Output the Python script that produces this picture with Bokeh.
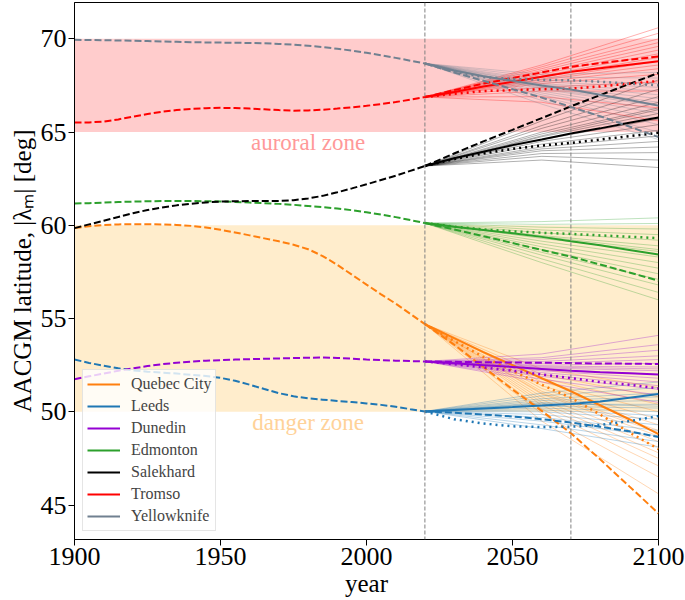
from bokeh.plotting import figure
from bokeh.models import (BoxAnnotation, Span, Legend, LegendItem,
                          FixedTicker, Range1d)
from bokeh.core.properties import value
from bokeh.embed import file_html
from bokeh.resources import INLINE

# ---------------- data ----------------
CITIES = ["Quebec City", "Leeds", "Dunedin", "Edmonton", "Salekhard", "Tromso", "Yellowknife"]
COLORS = ["#ff7f0e", "#1f77b4", "#9400d3", "#2ca02c", "#000000", "#ff0000", "#708090"]

HIST_YEARS = [1900, 1905, 1910, 1915, 1920, 1925, 1930, 1935, 1940, 1945, 1950, 1955, 1960,
              1965, 1970, 1975, 1980, 1985, 1990, 1995, 2000, 2005, 2010, 2015, 2020]
FUT_YEARS = [2020, 2030, 2040, 2050, 2060, 2070, 2080, 2090, 2100]
ENS_YEARS = [2020, 2060, 2100]

X_TICKS = [1900, 1950, 2000, 2050, 2100]
Y_TICKS = [45, 50, 55, 60, 65, 70]
MARKER_YEARS = [2020, 2070]
AURORAL_ZONE = (65, 70)
DANGER_ZONE = (50, 60)

# historical (dashed) 1900-2020
HIST_QUEBEC = [59.85, 59.95, 60.02, 60.05, 60.06, 60.06, 60.05, 60.02, 59.97, 59.88, 59.76, 59.62, 59.46,
               59.3, 59.14, 58.96, 58.72, 58.35, 57.88, 57.35, 56.82, 56.3, 55.8, 55.25, 54.7]
HIST_LEEDS = [52.8, 52.62, 52.47, 52.33, 52.22, 52.15, 52.1, 52.05, 51.98, 51.92, 51.82, 51.66, 51.45,
              51.22, 51.0, 50.83, 50.72, 50.65, 50.58, 50.52, 50.45, 50.37, 50.27, 50.14, 50.02]
HIST_DUNEDIN = [51.75, 51.9, 52.05, 52.2, 52.33, 52.45, 52.55, 52.63, 52.69, 52.74, 52.77, 52.8, 52.82,
                52.84, 52.86, 52.88, 52.9, 52.91, 52.89, 52.85, 52.8, 52.77, 52.74, 52.72, 52.7]
HIST_EDMONTON = [61.17, 61.19, 61.22, 61.25, 61.27, 61.29, 61.3, 61.3, 61.3, 61.29, 61.28, 61.25, 61.22,
                 61.19, 61.15, 61.1, 61.04, 60.98, 60.9, 60.81, 60.7, 60.58, 60.44, 60.28, 60.12]
HIST_SALEKHARD = [59.85, 60.05, 60.25, 60.45, 60.65, 60.82, 60.96, 61.07, 61.16, 61.23, 61.27, 61.29, 61.3,
                  61.3, 61.31, 61.35, 61.44, 61.58, 61.77, 61.98, 62.2, 62.43, 62.66, 62.92, 63.18]
HIST_TROMSO = [65.52, 65.52, 65.56, 65.68, 65.83, 65.97, 66.09, 66.18, 66.24, 66.28, 66.3, 66.29, 66.26,
               66.22, 66.18, 66.15, 66.16, 66.2, 66.26, 66.33, 66.41, 66.5, 66.61, 66.74, 66.88]
HIST_YELLOWKNIFE = [69.95, 69.94, 69.93, 69.91, 69.9, 69.88, 69.86, 69.84, 69.82, 69.81, 69.8, 69.79, 69.78,
                    69.76, 69.73, 69.69, 69.63, 69.56, 69.47, 69.37, 69.25, 69.12, 68.98, 68.83, 68.68]

# forecasts 2020-2100: solid / dashed / dotted
SOLID_QUEBEC = [54.7, 53.95, 53.2, 52.5, 51.8, 51.1, 50.35, 49.6, 48.8]
DASHED_QUEBEC = [54.7, 53.6, 52.4, 51.2, 50.05, 48.85, 47.45, 46.0, 44.55]
DOTTED_QUEBEC = [54.7, 53.8, 52.95, 52.2, 51.45, 50.75, 49.85, 48.9, 48.0]

SOLID_LEEDS = [50.02, 50.1, 50.18, 50.25, 50.33, 50.42, 50.55, 50.75, 50.95]
DASHED_LEEDS = [50.02, 49.95, 49.85, 49.75, 49.6, 49.42, 49.2, 48.95, 48.65]
DOTTED_LEEDS = [50.02, 49.6, 49.37, 49.22, 49.18, 49.2, 49.3, 49.5, 49.77]

SOLID_DUNEDIN = [52.7, 52.6, 52.5, 52.4, 52.3, 52.2, 52.12, 52.06, 52.0]
DASHED_DUNEDIN = [52.7, 52.68, 52.66, 52.64, 52.63, 52.61, 52.59, 52.58, 52.56]
DOTTED_DUNEDIN = [52.7, 52.55, 52.38, 52.2, 52.0, 51.8, 51.6, 51.45, 51.25]

SOLID_EDMONTON = [60.12, 59.92, 59.75, 59.57, 59.38, 59.15, 58.93, 58.68, 58.43]
DASHED_EDMONTON = [60.12, 59.78, 59.42, 59.05, 58.68, 58.32, 57.9, 57.47, 57.03]
DOTTED_EDMONTON = [60.12, 59.93, 59.78, 59.68, 59.6, 59.54, 59.46, 59.39, 59.31]

SOLID_SALEKHARD = [63.18, 63.6, 63.95, 64.3, 64.6, 64.92, 65.2, 65.5, 65.78]
DASHED_SALEKHARD = [63.18, 63.85, 64.5, 65.12, 65.75, 66.38, 66.98, 67.58, 68.17]
DOTTED_SALEKHARD = [63.18, 63.55, 63.85, 64.1, 64.28, 64.42, 64.6, 64.78, 64.96]

SOLID_TROMSO = [66.88, 67.15, 67.45, 67.7, 67.97, 68.23, 68.42, 68.61, 68.8]
DASHED_TROMSO = [66.88, 67.25, 67.6, 67.9, 68.2, 68.5, 68.7, 68.88, 69.05]
DOTTED_TROMSO = [66.88, 67.05, 67.2, 67.25, 67.3, 67.33, 67.45, 67.6, 67.74]

SOLID_YELLOWKNIFE = [68.68, 68.3, 68.0, 67.75, 67.5, 67.28, 67.0, 66.72, 66.42]
DASHED_YELLOWKNIFE = [68.68, 68.2, 67.75, 67.3, 66.85, 66.35, 65.85, 65.3, 64.73]
DOTTED_YELLOWKNIFE = [68.68, 68.25, 67.95, 67.85, 67.8, 67.78, 67.7, 67.6, 67.51]

# ensemble members: value at 2060 and value at 2100
ENS_MID_QUEBEC = [52.3, 52.0, 51.8, 51.6, 51.4, 51.25, 51.1, 50.95, 50.8, 50.65, 50.5, 50.35, 50.15, 49.9, 49.5, 51.0]
ENS_END_QUEBEC = [51.3, 50.8, 50.4, 50.0, 49.6, 49.3, 49.0, 48.7, 48.4, 48.1, 47.8, 47.5, 47.1, 46.5, 45.6, 48.9]
ENS_MID_LEEDS = [51.0, 50.85, 50.7, 50.6, 50.5, 50.4, 50.3, 50.2, 50.1, 50.0, 49.85, 49.7, 49.5, 49.3, 49.1, 50.45]
ENS_END_LEEDS = [51.6, 51.3, 51.0, 50.8, 50.6, 50.4, 50.2, 50.0, 49.8, 49.6, 49.3, 49.0, 48.7, 48.4, 48.1, 50.3]
ENS_MID_DUNEDIN = [53.1, 52.9, 52.8, 52.7, 52.6, 52.5, 52.45, 52.35, 52.3, 52.2, 52.1, 52.0, 51.9, 51.75, 51.6, 52.4]
ENS_END_DUNEDIN = [54.1, 53.6, 53.3, 53.0, 52.8, 52.6, 52.4, 52.2, 52.0, 51.8, 51.6, 51.4, 51.2, 50.9, 50.5, 52.3]
ENS_MID_EDMONTON = [60.2, 60.05, 59.9, 59.75, 59.6, 59.45, 59.3, 59.15, 59.0, 58.85, 58.7, 58.55, 58.4, 58.2, 58.0, 59.4]
ENS_END_EDMONTON = [60.4, 60.1, 59.8, 59.5, 59.2, 58.9, 58.6, 58.3, 58.0, 57.7, 57.4, 57.1, 56.8, 56.4, 56.0, 58.7]
ENS_MID_SALEKHARD = [65.6, 65.35, 65.2, 65.0, 64.9, 64.75, 64.6, 64.5, 64.35, 64.2, 64.1, 64.0, 63.85, 63.7, 63.5, 64.8]
ENS_END_SALEKHARD = [67.8, 67.3, 66.9, 66.6, 66.3, 66.0, 65.7, 65.4, 65.1, 64.8, 64.5, 64.2, 63.9, 63.5, 63.1, 66.2]
ENS_MID_TROMSO = [68.6, 68.5, 68.4, 68.3, 68.2, 68.1, 68.0, 67.95, 67.85, 67.8, 67.7, 67.6, 67.4, 67.2, 66.9, 66.6]
ENS_END_TROMSO = [70.6, 70.3, 70.0, 69.8, 69.6, 69.4, 69.2, 69.0, 68.8, 68.6, 68.4, 68.1, 67.7, 67.2, 66.3, 65.6]
ENS_MID_YELLOWKNIFE = [68.1, 67.95, 67.8, 67.7, 67.6, 67.55, 67.45, 67.4, 67.3, 67.2, 67.1, 67.0, 66.9, 66.7, 66.5, 67.35]
ENS_END_YELLOWKNIFE = [68.2, 67.9, 67.6, 67.4, 67.2, 67.0, 66.8, 66.6, 66.4, 66.2, 66.0, 65.7, 65.4, 65.0, 64.6, 66.5]

HIST = [HIST_QUEBEC, HIST_LEEDS, HIST_DUNEDIN, HIST_EDMONTON, HIST_SALEKHARD, HIST_TROMSO, HIST_YELLOWKNIFE]
SOLID = [SOLID_QUEBEC, SOLID_LEEDS, SOLID_DUNEDIN, SOLID_EDMONTON, SOLID_SALEKHARD, SOLID_TROMSO, SOLID_YELLOWKNIFE]
DASHED = [DASHED_QUEBEC, DASHED_LEEDS, DASHED_DUNEDIN, DASHED_EDMONTON, DASHED_SALEKHARD, DASHED_TROMSO, DASHED_YELLOWKNIFE]
DOTTED = [DOTTED_QUEBEC, DOTTED_LEEDS, DOTTED_DUNEDIN, DOTTED_EDMONTON, DOTTED_SALEKHARD, DOTTED_TROMSO, DOTTED_YELLOWKNIFE]
ENS_MID = [ENS_MID_QUEBEC, ENS_MID_LEEDS, ENS_MID_DUNEDIN, ENS_MID_EDMONTON, ENS_MID_SALEKHARD, ENS_MID_TROMSO, ENS_MID_YELLOWKNIFE]
ENS_END = [ENS_END_QUEBEC, ENS_END_LEEDS, ENS_END_DUNEDIN, ENS_END_EDMONTON, ENS_END_SALEKHARD, ENS_END_TROMSO, ENS_END_YELLOWKNIFE]

ZONE_LABELS = ["auroral zone", "danger zone"]
ZONE_LABEL_X = [1980, 1980]
ZONE_LABEL_Y = [64.45, 49.45]
ZONE_LABEL_COLORS = ["#ff9999", "#ffd299"]

# ---------------- figure ----------------
SERIF = "Liberation Serif"

p = figure(width=685, height=600,
           x_range=Range1d(1900, 2100), y_range=Range1d(43.15, 71.95),
           output_backend="svg", toolbar_location=None,
           min_border_left=74, min_border_right=27, min_border_top=2, min_border_bottom=61,
           background_fill_color="white", border_fill_color="white")

p.xgrid.visible = False
p.ygrid.visible = False
p.outline_line_color = "black"
p.outline_line_width = 1

# zones
p.add_layout(BoxAnnotation(bottom=AURORAL_ZONE[0], top=AURORAL_ZONE[1],
                           fill_color="#ff0000", fill_alpha=0.2, line_alpha=0, level="underlay"))
p.add_layout(BoxAnnotation(bottom=DANGER_ZONE[0], top=DANGER_ZONE[1],
                           fill_color="#ffa500", fill_alpha=0.2, line_alpha=0, level="underlay"))

for yr in MARKER_YEARS:
    p.add_layout(Span(location=yr, dimension="height", line_color="#808080",
                      line_dash="4 2", line_width=1))

p.text(x=ZONE_LABEL_X, y=ZONE_LABEL_Y, text=ZONE_LABELS, text_color=ZONE_LABEL_COLORS,
       text_font=value(SERIF), text_font_size="23px", text_align="center",
       text_baseline="middle")

for i, city in enumerate(CITIES):
    n = len(ENS_END[i])
    start = HIST[i][-1]
    xs = [ENS_YEARS for _ in range(n)]
    ys = [[start, ENS_MID[i][k], ENS_END[i][k]] for k in range(n)]
    p.multi_line(xs=xs, ys=ys, line_color=COLORS[i], line_alpha=0.35, line_width=0.9)

legend_items = []
for i, city in enumerate(CITIES):
    col = COLORS[i]
    p.line(HIST_YEARS, HIST[i], line_color=col, line_width=2, line_dash="7 3")
    p.line(FUT_YEARS, DASHED[i], line_color=col, line_width=2, line_dash="7 3")
    p.line(FUT_YEARS, DOTTED[i], line_color=col, line_width=2.5, line_dash="2 4")
    r = p.line(FUT_YEARS, SOLID[i], line_color=col, line_width=2)
    legend_items.append(LegendItem(label=city, renderers=[r]))

legend = Legend(items=legend_items, location="bottom_left",
                label_text_font=SERIF, label_text_font_size="16px",
                glyph_width=33, glyph_height=20, label_height=20, spacing=2,
                padding=4, margin=8, label_standoff=11,
                background_fill_color="white", background_fill_alpha=0.8,
                border_line_color="#cccccc", border_line_width=1)
p.add_layout(legend)

for ax in (p.xaxis[0], p.yaxis[0]):
    ax.axis_line_color = "black"
    ax.major_tick_line_color = "black"
    ax.major_tick_out = 6
    ax.major_tick_in = 0
    ax.minor_tick_line_color = None
    ax.major_label_text_font = SERIF
    ax.major_label_text_font_size = "26px"
    ax.major_label_text_color = "black"
    ax.axis_label_text_font = SERIF
    ax.axis_label_text_font_size = "25px"
    ax.axis_label_text_font_style = "normal"
    ax.axis_label_text_color = "black"
    ax.major_label_standoff = 2
    ax.axis_label_standoff = 2

p.xaxis.ticker = FixedTicker(ticks=X_TICKS)
p.yaxis.ticker = FixedTicker(ticks=Y_TICKS)
p.xaxis.axis_label = "year"
p.yaxis.axis_label = "AACGM latitude, |λₘ| [deg]"

open("out.html", "w").write(file_html(p, INLINE))
